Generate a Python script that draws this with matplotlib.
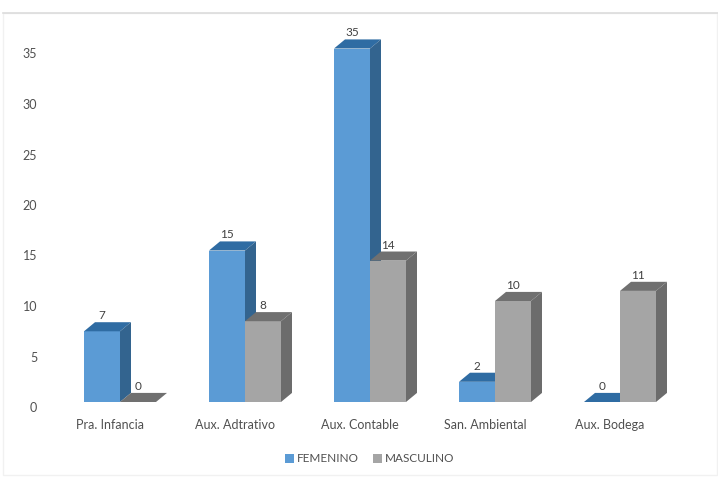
import matplotlib
matplotlib.use('Agg')
import matplotlib.pyplot as plt
import numpy as np
from matplotlib.lines import Line2D
from matplotlib.patches import Polygon, Rectangle

categories = ['Pra. Infancia', 'Aux. Adtrativo', 'Aux. Contable', 'San. Ambiental', 'Aux. Bodega']
femenino = [7, 15, 35, 2, 0]
masculino = [0, 8, 14, 10, 11]
y_ticks = [0, 5, 10, 15, 20, 25, 30, 35]

plt.rcParams['font.family'] = ['Lato', 'DejaVu Sans']

W, H = 718, 479
BAR_W = 0.288
DX, DY = 0.088, 0.9
TEXT = '#505050'


def draw_bars(ax, xs, values, front, side, top, name):
    ax.bar(xs, values, BAR_W, align='edge', color=front, label=name, zorder=3)
    for x, v in zip(xs, values):
        ax.add_patch(Polygon([(x, v), (x + BAR_W, v), (x + BAR_W + DX, v + DY), (x + DX, v + DY)],
                             closed=True, fc=top, ec='none', zorder=3, clip_on=False))
        if v > 0:
            ax.add_patch(Polygon([(x + BAR_W, 0), (x + BAR_W + DX, DY), (x + BAR_W + DX, v + DY), (x + BAR_W, v)],
                                 closed=True, fc=side, ec='none', zorder=3, clip_on=False))
        ax.annotate(str(v), (x + BAR_W / 2, v), xytext=(0, 10), textcoords='offset pixels',
                    ha='center', va='bottom', fontsize=8.5, color='#404040', zorder=5)


fig = plt.figure(figsize=(W / 100, H / 100), dpi=100)
fig.patches.append(Rectangle((3 / W, 1 - 475 / H), 714 / W, 462 / H, transform=fig.transFigure,
                             fc='white', ec='#f1f1f1', lw=1, zorder=-1))
# top edge is the only one that really shows
fig.add_artist(Line2D([3 / W, 1], [1 - 13 / H, 1 - 13 / H], color='#dcdcdc', lw=1.2))

ax = fig.add_axes([72 / W, 1 - 402 / H, 625 / W, 390 / H])
ax.patch.set_alpha(0)
x = np.arange(len(categories))
draw_bars(ax, x - BAR_W, femenino, '#5b9bd5', '#33648f', '#2f6ca3', 'FEMENINO')
draw_bars(ax, x, masculino, '#a5a5a5', '#6c6c6c', '#707070', 'MASCULINO')

ax.set_xlim(-0.384, 4.616)
ax.set_ylim(0, 390 / 10.1)
ax.set_xticks(x - 0.08, categories)
ax.set_yticks(y_ticks)
ax.tick_params(axis='x', length=0, pad=12, labelsize=9, labelcolor=TEXT)
ax.tick_params(axis='y', length=0, pad=25, labelsize=9, labelcolor=TEXT)
for t in ax.get_yticklabels():
    t.set_verticalalignment('top')
for s in ax.spines.values():
    s.set_visible(False)

fig.legend(loc='center', bbox_to_anchor=(370 / W, 1 - 459 / H), ncol=2, frameon=False, fontsize=8.5,
           labelcolor=TEXT, handlelength=0.7, handleheight=0.7, handletextpad=0.3, columnspacing=1.2)

fig.savefig('out.png', dpi=100)
